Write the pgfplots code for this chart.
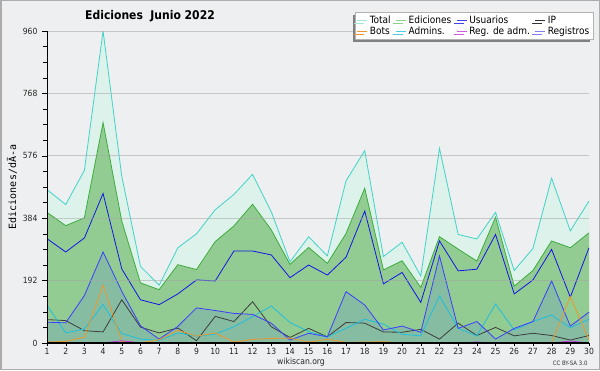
\documentclass[border=0pt]{standalone}
\usepackage{pgfplots}
\pgfplotsset{compat=1.18}
\usepackage{fontspec}
\setmainfont{DejaVu Sans Condensed}
\newfontfamily\monofont{DejaVu Sans Mono}
\usetikzlibrary{shadows}

\definecolor{bg}{RGB}{238,239,240}
\definecolor{frame}{RGB}{172,172,172}
\definecolor{totline}{RGB}{64,212,200}
\definecolor{totfill}{RGB}{220,242,234}
\definecolor{edline}{RGB}{60,172,60}
\definecolor{edfill}{RGB}{147,204,147}
\definecolor{usu}{RGB}{20,20,230}
\definecolor{regline}{RGB}{60,60,255}
\definecolor{regfill}{RGB}{134,189,162}
\definecolor{ipc}{RGB}{60,60,60}
\definecolor{adm}{RGB}{30,190,222}
\definecolor{bots}{RGB}{240,150,40}
\definecolor{regadm}{RGB}{200,50,220}
\definecolor{legtot}{RGB}{160,232,222}
\definecolor{leged}{RGB}{140,210,140}
\definecolor{legreg}{RGB}{128,128,240}

\pgfplotstableread{
day total edic usu ip bots admins regadm registros
1 472 402 321 72 3 116 0 64
2 426 361 280 69 5 31 0 62
3 531 385 323 38 18 43 0 146
4 960 678 460 34 178 118 0 280
5 513 375 228 133 5 29 7 159
6 236 185 133 49 0 12 0 53
7 178 164 118 31 10 8 0 12
8 293 241 151 46 39 31 0 51
9 336 226 194 7 21 21 0 108
10 410 312 191 82 31 27 0 100
11 457 360 283 66 3 50 0 91
12 519 427 283 127 11 81 0 88
13 404 348 271 50 14 114 0 61
14 250 242 201 17 15 63 0 9
15 327 294 240 45 3 35 0 30
16 268 245 209 19 11 19 0 19
17 499 337 264 63 2 45 0 158
18 592 476 406 61 3 73 0 117
19 266 225 182 34 4 58 0 40
20 310 253 217 33 0 27 0 52
21 206 171 125 42 0 22 0 33
22 599 327 314 12 0 145 0 268
23 334 289 222 61 0 45 0 45
24 320 252 227 23 0 22 3 66
25 402 387 334 48 0 120 0 12
26 223 175 151 22 0 40 0 45
27 291 223 194 30 0 66 0 66
28 507 314 288 23 0 86 0 191
29 345 293 141 9 143 47 6 52
30 437 339 293 23 9 73 0 95
}\datatable

\begin{document}
\begin{tikzpicture}[x=1pt,y=1pt]
\fill[bg] (0,0) rectangle (600,370);
\draw[frame, line width=1.5pt] (0.75,0.75) rectangle (599.25,369.25);
\begin{axis}[
  scale only axis, width=542pt, height=312pt,
  at={(47pt,27pt)}, anchor=south west,
  xmin=1, xmax=30, ymin=0, ymax=960,
  axis x line*=bottom, axis y line*=left,
  x axis line style={line width=1.6pt, black},
  y axis line style={line width=0.8pt, black},
  xtick={1,...,30}, ytick={0,192,...,960}, minor y tick num=3,
  tick align=outside, major tick length=5pt, minor tick length=4pt,
  xtick style={/pgfplots/major tick length=3pt, black},
  ytick style={black, line width=0.6pt},
  ymajorgrids, grid style={draw=black!35, opacity=0.55, line width=0.8pt},
  axis on top,
  tick label style={font=\fontsize{8.5}{8.5}\selectfont, text=black!85},
  /pgf/number format/assume math mode=true,
  yticklabel style={xshift=-1pt},
  xticklabel style={yshift=3pt},
  legend columns=4,
  legend cell align=left,
  legend image code/.code={\draw[#1, line width=0.9pt] (0pt,0pt) -- (10pt,0pt);},
  legend style={at={(1.0074,1.0609)}, anchor=north east, draw=black!30, fill=white,
    font=\fontsize{10}{10}\selectfont, inner sep=1.5pt, row sep=-2pt,
    /tikz/every even column/.append style={column sep=3pt},
    drop shadow={shadow xshift=-3pt, shadow yshift=-3pt, fill=black!50, opacity=1}},
]
\addplot[fill=totfill, draw=none, forget plot] table[x=day,y=total]{\datatable} \closedcycle;
\addplot[fill=edfill, draw=none, forget plot] table[x=day,y=edic]{\datatable} \closedcycle;
\addplot[fill=regfill, draw=none, forget plot] table[x=day,y=registros]{\datatable} \closedcycle;
\addplot[totline, line width=0.8pt, forget plot] table[x=day,y=total]{\datatable};
\addplot[edline, line width=0.8pt, forget plot] table[x=day,y=edic]{\datatable};
\addplot[usu, line width=0.8pt, forget plot] table[x=day,y=usu]{\datatable};
\addplot[ipc, line width=0.8pt, forget plot] table[x=day,y=ip]{\datatable};
\addplot[adm, line width=0.8pt, forget plot] table[x=day,y=admins]{\datatable};
\addplot[regline, line width=0.8pt, forget plot] table[x=day,y=registros]{\datatable};
\addplot[bots, line width=0.8pt, forget plot] table[x=day,y=bots]{\datatable};
\addplot[regadm, line width=0.8pt, forget plot] table[x=day,y=regadm]{\datatable};
\addlegendimage{legtot}\addlegendentry{Total}
\addlegendimage{leged}\addlegendentry{Ediciones}
\addlegendimage{usu!80}\addlegendentry{Usuarios}
\addlegendimage{black!80}\addlegendentry{IP}
\addlegendimage{bots}\addlegendentry{Bots}
\addlegendimage{adm!80}\addlegendentry{Admins.}
\addlegendimage{regadm!80}\addlegendentry{Reg. de adm.}
\addlegendimage{legreg}\addlegendentry{Registros}
\end{axis}
\node[font=\bfseries\fontsize{12}{12}\selectfont] at (150,354) {Ediciones\ \ Junio 2022};
\node[font=\monofont\fontsize{10}{10}\selectfont, rotate=90] at (12,183) {Ediciones/dÃ-a};
\node[font=\fontsize{8.5}{8.5}\selectfont, text=black!85] at (301,8) {wikiscan.org};
\node[font=\fontsize{6}{6}\selectfont, text=black!80, anchor=east] at (591,7) {CC BY-SA 3.0};
\pgfresetboundingbox
\useasboundingbox (0,0) rectangle (600,370);
\end{tikzpicture}
\end{document}
